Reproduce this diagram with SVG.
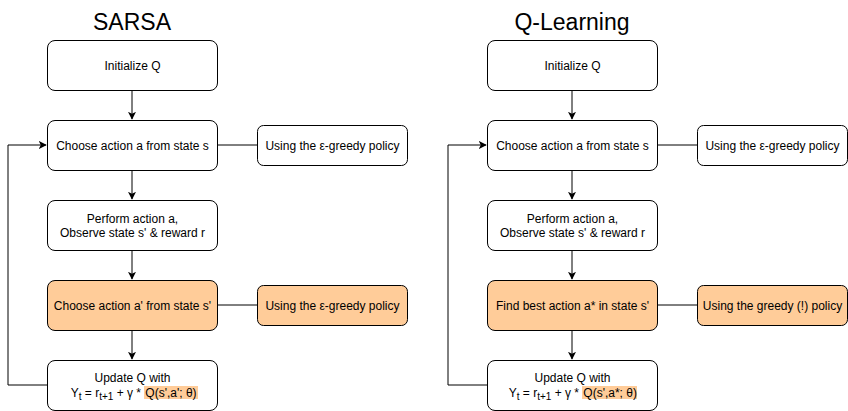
<svg xmlns="http://www.w3.org/2000/svg" width="848" height="411" viewBox="0 0 848 411">
<defs>
<marker id="ah" viewBox="0 0 10 10" refX="9" refY="5" markerWidth="8" markerHeight="8" markerUnits="userSpaceOnUse" orient="auto">
<path d="M0,0 L10,5 L0,10 L2.5,5 Z" fill="#000"/>
</marker>
<style>
.b{fill:#fff;stroke:#000;stroke-width:1}
.o{fill:#FFCC99;stroke:#000;stroke-width:1}
text{font-family:"Liberation Sans",Arial,sans-serif;font-size:12px;fill:#000;text-anchor:middle}
.t{font-size:23px}
.e{text-anchor:end}
.s{text-anchor:start}
.c{fill:none;stroke:#000;stroke-width:1}
.hl{fill:#FFCC99}
</style>
</defs>
<rect width="848" height="411" fill="#fff"/>
<g id="connectors">
<path class="c" d="M132,90.5 V119" marker-end="url(#ah)"/>
<path class="c" d="M132,170.5 V199" marker-end="url(#ah)"/>
<path class="c" d="M132,250.5 V279" marker-end="url(#ah)"/>
<path class="c" d="M132,330.5 V359" marker-end="url(#ah)"/>
<path class="c" d="M47.5,385 H8 V145 H46" marker-end="url(#ah)"/>
<path class="c" d="M217.5,145 H257.5"/>
<path class="c" d="M217.5,305 H257.5"/>
<path class="c" d="M572,90.5 V119" marker-end="url(#ah)"/>
<path class="c" d="M572,170.5 V199" marker-end="url(#ah)"/>
<path class="c" d="M572,250.5 V279" marker-end="url(#ah)"/>
<path class="c" d="M572,330.5 V359" marker-end="url(#ah)"/>
<path class="c" d="M487.5,385 H448 V145 H486" marker-end="url(#ah)"/>
<path class="c" d="M657.5,145 H697.5"/>
<path class="c" d="M657.5,305 H697.5"/>
</g>
<g id="title-sarsa"><text class="t" x="132" y="30">SARSA</text></g>
<g id="title-q"><text class="t" x="572" y="30">Q-Learning</text></g>
<g id="s-init"><rect class="b" x="47.5" y="40.5" width="170" height="50" rx="7.5"/><text x="132.5" y="70">Initialize Q</text></g>
<g id="s-choose"><rect class="b" x="47.5" y="120.5" width="170" height="50" rx="7.5"/><text x="132.5" y="150">Choose action a from state s</text></g>
<g id="s-policy1"><rect class="b" x="257.5" y="125.5" width="150" height="40" rx="6"/><text x="332.5" y="150">Using the ε-greedy policy</text></g>
<g id="s-perform"><rect class="b" x="47.5" y="200.5" width="170" height="50" rx="7.5"/><text x="132.5" y="223">Perform action a,</text><text x="132.5" y="237">Observe state s' &amp; reward r</text></g>
<g id="s-choose2"><rect class="o" x="47.5" y="280.5" width="170" height="50" rx="7.5"/><text x="132.5" y="310">Choose action a' from state s'</text></g>
<g id="s-policy2"><rect class="o" x="257.5" y="285.5" width="150" height="40" rx="6"/><text x="332.5" y="310">Using the ε-greedy policy</text></g>
<g id="s-update"><rect class="b" x="47.5" y="360.5" width="170" height="50" rx="7.5"/>
<rect class="hl" x="144" y="386" width="54" height="13"/>
<text x="132.5" y="382">Update Q with</text>
<text class="e" x="141" y="397">Y<tspan font-size="10" dy="3">t</tspan><tspan dy="-3"> = r</tspan><tspan font-size="10" dy="3">t+1</tspan><tspan dy="-3"> + γ *</tspan></text>
<text class="s" x="145.3" y="397">Q(s',a'; θ)</text></g>
<g id="q-init"><rect class="b" x="487.5" y="40.5" width="170" height="50" rx="7.5"/><text x="572.5" y="70">Initialize Q</text></g>
<g id="q-choose"><rect class="b" x="487.5" y="120.5" width="170" height="50" rx="7.5"/><text x="572.5" y="150">Choose action a from state s</text></g>
<g id="q-policy1"><rect class="b" x="697.5" y="125.5" width="150" height="40" rx="6"/><text x="772.5" y="150">Using the ε-greedy policy</text></g>
<g id="q-perform"><rect class="b" x="487.5" y="200.5" width="170" height="50" rx="7.5"/><text x="572.5" y="223">Perform action a,</text><text x="572.5" y="237">Observe state s' &amp; reward r</text></g>
<g id="q-best"><rect class="o" x="487.5" y="280.5" width="170" height="50" rx="7.5"/><text x="572.5" y="310">Find best action a* in state s'</text></g>
<g id="q-policy2"><rect class="o" x="697.5" y="285.5" width="150" height="40" rx="6"/><text x="772.5" y="310">Using the greedy (!) policy</text></g>
<g id="q-update"><rect class="b" x="487.5" y="360.5" width="170" height="50" rx="7.5"/>
<rect class="hl" x="582" y="386" width="55" height="13"/>
<text x="572.5" y="382">Update Q with</text>
<text class="e" x="579" y="397">Y<tspan font-size="10" dy="3">t</tspan><tspan dy="-3"> = r</tspan><tspan font-size="10" dy="3">t+1</tspan><tspan dy="-3"> + γ *</tspan></text>
<text class="s" x="583.3" y="397">Q(s',a*; θ)</text></g>
</svg>
